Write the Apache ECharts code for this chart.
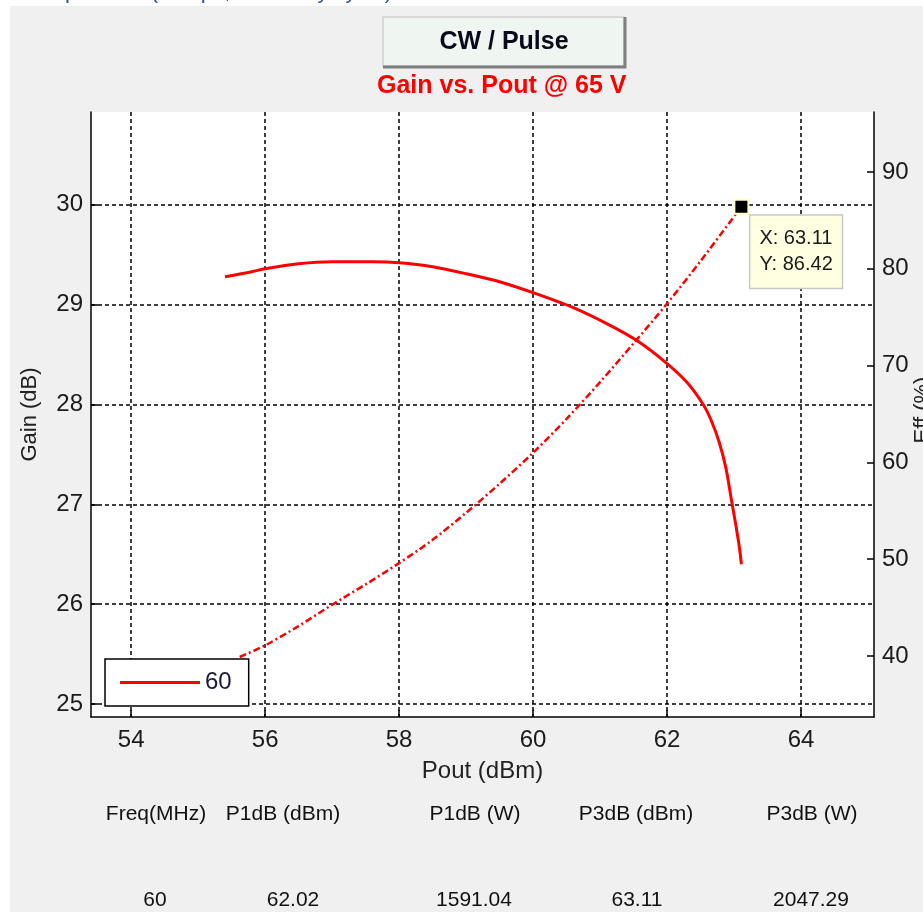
<!DOCTYPE html>
<html>
<head>
<meta charset="utf-8">
<script src="https://cdn.jsdelivr.net/npm/echarts@6/dist/echarts.min.js"></script>
<style>
html,body{margin:0;padding:0;background:#fff;}
#chart{width:923px;height:912px;}
</style>
</head>
<body>
<div id="chart"></div>
<script>
// ---- data ----
var gainX = [55.40, 55.80, 56.00, 56.50, 57.00, 57.60, 58.00, 58.50, 59.00, 59.50, 60.00, 60.60, 61.10, 61.55, 62.00, 62.30, 62.54, 62.66, 62.78, 62.88, 62.96, 63.03, 63.08, 63.11];
var gainY = [29.28, 29.33, 29.36, 29.41, 29.43, 29.43, 29.42, 29.38, 29.31, 29.23, 29.12, 28.97, 28.81, 28.64, 28.41, 28.22, 28.00, 27.84, 27.62, 27.36, 27.05, 26.78, 26.57, 26.40];
var effX = [55.62, 56.00, 56.50, 57.00, 57.50, 58.00, 58.50, 59.00, 59.50, 60.00, 60.50, 61.00, 61.50, 62.00, 62.50, 63.11];
var effY = [39.9, 41.1, 43.1, 45.3, 47.4, 49.6, 52.0, 54.8, 57.8, 61.0, 64.5, 68.3, 72.3, 76.4, 80.8, 86.42];
var legendName = '60';
var titleText = 'Gain vs. Pout @ 65 V';
var buttonText = 'CW / Pulse';
var topNote = 'Pulsed Operation (100 \u00b5s, 10% duty cycle)';
var tableHeaders = ['Freq(MHz)', 'P1dB (dBm)', 'P1dB (W)', 'P3dB (dBm)', 'P3dB (W)'];
var tableValues = ['60', '62.02', '1591.04', '63.11', '2047.29'];

// ---- chart ----
var FONT = "'Liberation Sans', Arial, sans-serif";
var chart = echarts.init(document.getElementById('chart'), null, {renderer: 'canvas'});

function pairs(xs, ys) { return xs.map(function (x, i) { return [x, ys[i]]; }); }
var lastI = effX.length - 1;

var headerX = [156, 283, 475, 636, 812];
var valueX = [155, 293, 474, 637, 811];
var tableGraphics = [];
tableHeaders.forEach(function (h, i) {
  tableGraphics.push({type: 'text', x: headerX[i], y: 814, style: {text: h, font: '21px ' + FONT, fill: '#111', align: 'center', verticalAlign: 'middle'}});
});
tableValues.forEach(function (v, i) {
  tableGraphics.push({type: 'text', x: valueX[i], y: 900, style: {text: v, font: '21px ' + FONT, fill: '#111', align: 'center', verticalAlign: 'middle'}});
});

var axisLabelStyle = {color: '#1a1a1a', fontSize: 24, fontFamily: FONT};
var dashed = {show: true, lineStyle: {color: '#000', width: 1.5, type: [4, 3]}, showMinLine: false, showMaxLine: false};

var option = {
  backgroundColor: '#f0f0f0',
  animation: false,
  title: {
    text: titleText, left: 377, top: 74, padding: 0,
    textStyle: {color: '#ff0000', fontSize: 25, fontWeight: 'bold', fontFamily: FONT}
  },
  legend: {
    data: [legendName],
    left: 105, top: 659,
    padding: [11, 17, 11, 15],
    backgroundColor: '#fff', borderColor: '#000', borderWidth: 1.5, borderRadius: 0,
    itemWidth: 80, itemHeight: 3, itemGap: 10,
    icon: 'rect',
    textStyle: {color: '#1a1a3a', fontSize: 24, fontFamily: FONT, lineHeight: 25}
  },
  grid: {left: 91, top: 112, right: 49, bottom: 195, show: true, backgroundColor: '#fff', borderWidth: 0},
  xAxis: {
    type: 'value', min: 53.4, max: 65.09, minInterval: 2, maxInterval: 2,
    name: 'Pout (dBm)', nameLocation: 'middle', nameGap: 42,
    nameTextStyle: {color: '#222', fontSize: 24, fontFamily: FONT},
    axisLine: {show: true, onZero: false, lineStyle: {color: '#000', width: 1.5}},
    axisTick: {show: true, inside: true, length: 7, lineStyle: {color: '#000', width: 1.5}},
    axisLabel: Object.assign({margin: 11, showMinLabel: false, showMaxLabel: false}, axisLabelStyle),
    splitLine: dashed
  },
  yAxis: [{
    type: 'value', position: 'left', min: 24.87, max: 30.93, minInterval: 1, maxInterval: 1,
    name: 'Gain (dB)', nameLocation: 'middle', nameGap: 50,
    nameTextStyle: {color: '#222', fontSize: 22, fontFamily: FONT},
    axisLine: {show: true, lineStyle: {color: '#000', width: 1.5}},
    axisTick: {show: true, inside: true, length: 7, lineStyle: {color: '#000', width: 1.5}},
    axisLabel: Object.assign({margin: 8, showMinLabel: false, showMaxLabel: false}, axisLabelStyle),
    splitLine: dashed
  }, {
    type: 'value', position: 'right', min: 33.7, max: 96.2, minInterval: 10, maxInterval: 10,
    axisLine: {show: true, lineStyle: {color: '#000', width: 1.5}},
    axisTick: {show: true, inside: true, length: 7, lineStyle: {color: '#000', width: 1.5}},
    axisLabel: Object.assign({margin: 8, showMinLabel: false, showMaxLabel: false}, axisLabelStyle),
    splitLine: {show: false}
  }],
  series: [{
    name: legendName, type: 'line', xAxisIndex: 0, yAxisIndex: 0,
    data: pairs(gainX, gainY), symbol: 'none', smooth: 0.3,
    itemStyle: {color: '#ff0000'},
    lineStyle: {color: '#ff0000', width: 3}, z: 3
  }, {
    name: 'Eff ' + legendName, type: 'line', xAxisIndex: 0, yAxisIndex: 1,
    data: pairs(effX, effY), symbol: 'none', smooth: 0.3,
    itemStyle: {color: '#ff0000'},
    lineStyle: {color: '#ff0000', width: 2.5, type: [7, 3, 2, 3]}, z: 3,
    markPoint: {
      symbol: 'rect', symbolSize: 14,
      itemStyle: {color: '#000', borderColor: '#ffffcc', borderWidth: 2},
      data: [{coord: [effX[lastI], effY[lastI]], value: effY[lastI]}],
      label: {
        show: true, position: [17, 17], align: 'left', verticalAlign: 'top',
        formatter: 'X: ' + effX[lastI].toFixed(2) + '\nY: ' + effY[lastI].toFixed(2),
        backgroundColor: '#ffffe1', borderColor: '#c8c8c8', borderWidth: 1.5,
        padding: [10, 9, 10, 9], color: '#1a1a1a', fontSize: 20, lineHeight: 26, fontFamily: FONT
      }
    }
  }],
  graphic: [
    {type: 'rect', shape: {x: 0, y: 0, width: 923, height: 6}, style: {fill: '#fff'}, z: 0},
    {type: 'rect', shape: {x: 0, y: 0, width: 10, height: 912}, style: {fill: '#fff'}, z: 0},
    {type: 'text', x: 392, y: -19, style: {text: topNote, font: '22px ' + FONT, fill: '#2f5597', align: 'right', verticalAlign: 'top'}, z: 1},
    {type: 'rect', shape: {x: 383, y: 17, width: 241, height: 49}, style: {fill: '#eff5f0', stroke: '#d0d0d0', lineWidth: 1.5}, z: 1},
    {type: 'polyline', shape: {points: [[625, 17], [625, 67], [383, 67]]}, style: {stroke: '#7f7f7f', lineWidth: 3, fill: null}, z: 2},
    {type: 'text', x: 504, y: 42, style: {text: buttonText, font: 'bold 25px ' + FONT, fill: '#0a0a1a', align: 'center', verticalAlign: 'middle'}, z: 3},
    {type: 'text', x: 912, y: 410, rotation: Math.PI / 2, style: {text: 'Eff (%)', font: '22px ' + FONT, fill: '#222', align: 'center', verticalAlign: 'top'}, z: 3}
  ].concat(tableGraphics)
};
chart.setOption(option);
</script>
</body>
</html>
